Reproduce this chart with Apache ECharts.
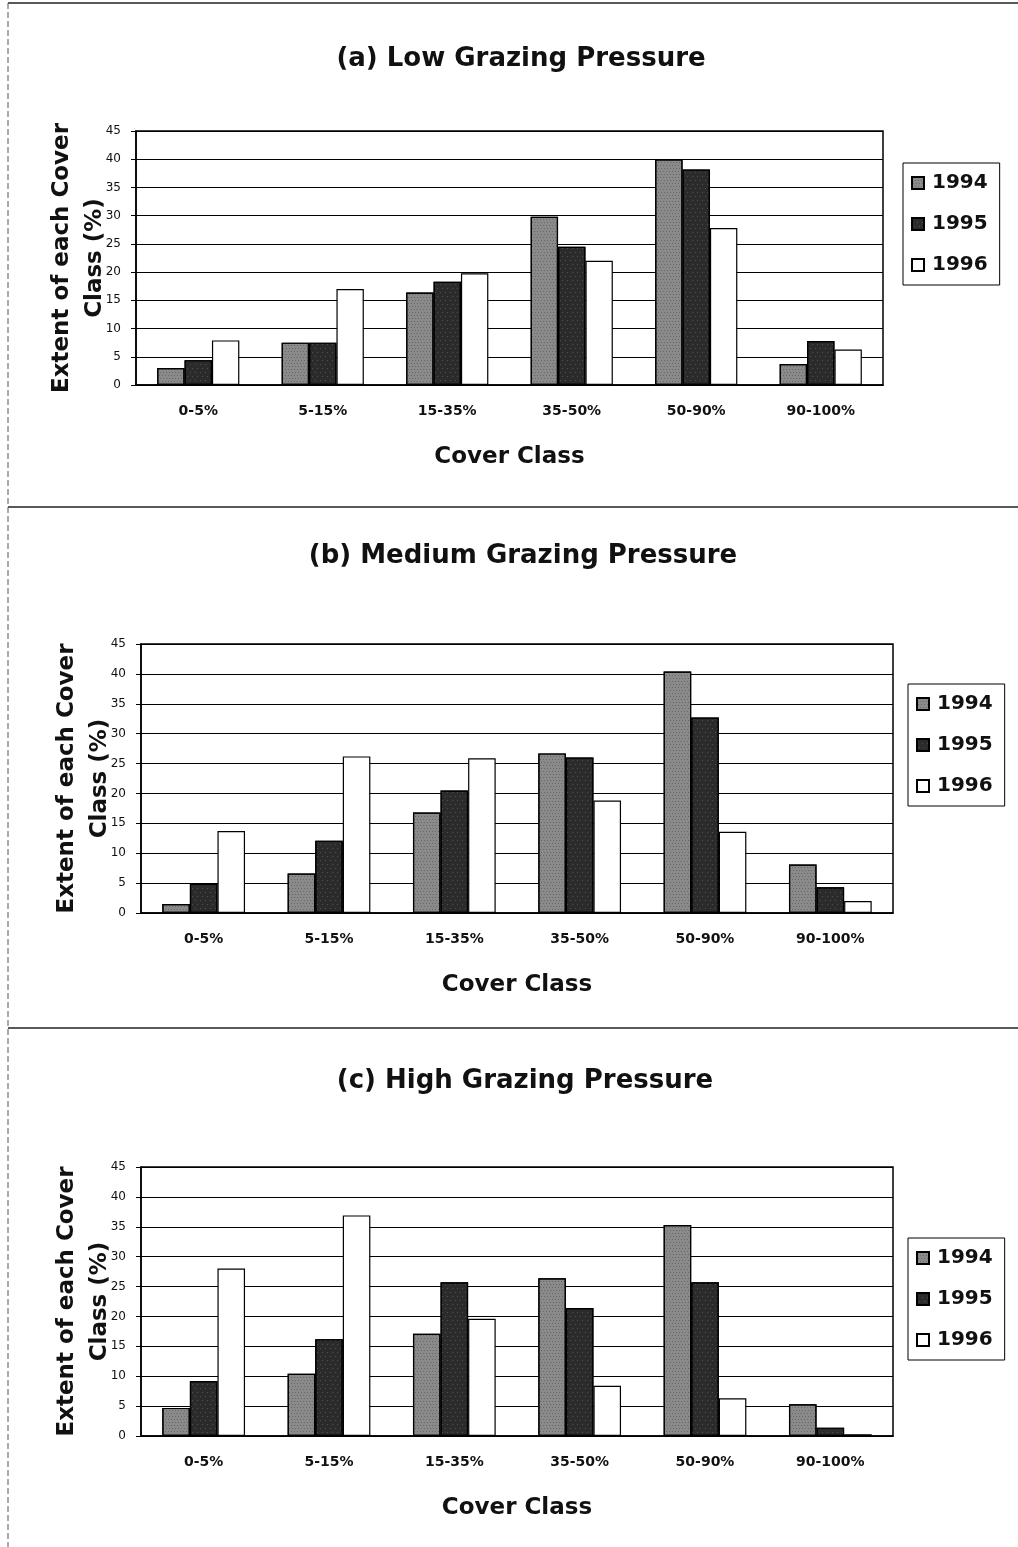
<!DOCTYPE html>
<html>
<head>
<meta charset="utf-8">
<script src="https://cdn.jsdelivr.net/npm/echarts@6/dist/echarts.min.js"></script>
<style>
html,body{margin:0;padding:0;background:#fff;}
#chart{width:1018px;height:1547px;}
</style>
</head>
<body>
<div id="chart"></div>
<script>
const categories = ['0-5%', '5-15%', '15-35%', '35-50%', '50-90%', '90-100%'];
const years = ['1994', '1995', '1996'];
const yTicks = [0, 5, 10, 15, 20, 25, 30, 35, 40, 45];
const panelTitles = ['(a) Low Grazing Pressure', '(b) Medium Grazing Pressure', '(c) High Grazing Pressure'];

const lowG1994 = [3.0, 7.5, 16.4, 29.8, 40.0, 3.7];
const lowG1995 = [4.4, 7.5, 18.3, 24.5, 38.2, 7.8];
const lowG1996 = [7.9, 17.0, 19.8, 22.0, 27.8, 6.3];

const medG1994 = [1.5, 6.6, 16.8, 26.7, 40.4, 8.1];
const medG1995 = [4.9, 12.1, 20.5, 26.0, 32.7, 4.3];
const medG1996 = [13.7, 26.2, 25.9, 18.8, 13.6, 2.0];

const highG1994 = [4.7, 10.4, 17.1, 26.4, 35.3, 5.3];
const highG1995 = [9.2, 16.2, 25.7, 21.4, 25.7, 1.4];
const highG1996 = [28.0, 36.9, 19.6, 8.4, 6.3, 0.3];

const panelData = [
  [lowG1994, lowG1995, lowG1996],
  [medG1994, medG1995, medG1996],
  [highG1994, highG1995, highG1996]
];

const FONT = '"DejaVu Sans", "Liberation Sans", Arial, sans-serif';
const grids = [
  {left: 136, right: 135, top: 131, height: 254},
  {left: 141, right: 125, top: 644, height: 269},
  {left: 141, right: 125, top: 1167, height: 269}
];
const titleCenters = [516, 518, 520];
const titleTops = [41, 538, 1063];
const legendPos = [
  {left: 903, top: 163},
  {left: 908, top: 684},
  {left: 908, top: 1238}
];
const fills = ['#8a8a8a', '#2b2b2b', '#ffffff'];
const decals = [
  {symbol: 'rect', symbolSize: 1, color: 'rgba(40,40,40,0.35)', dashArrayX: [[1, 2], [0, 1, 1, 1]], dashArrayY: [1, 2], rotation: 0},
  {symbol: 'rect', symbolSize: 1, color: 'rgba(150,150,150,0.35)', dashArrayX: [[1, 4], [0, 2, 1, 2]], dashArrayY: [1, 3], rotation: 0},
  null
];

const option = {
  backgroundColor: '#fff',
  animation: false,
  textStyle: {fontFamily: FONT},
  title: panelTitles.map((t, i) => ({
    text: t, left: titleCenters[i], textAlign: 'center', top: titleTops[i],
    textStyle: {fontFamily: FONT, fontSize: 26, fontWeight: 'bold', color: '#111'}
  })),
  legend: legendPos.map((p, i) => ({
    orient: 'vertical', left: p.left, top: p.top,
    data: years,
    icon: 'rect', itemWidth: 12, itemHeight: 12, itemGap: 21,
    padding: [10, 12, 10, 8],
    borderColor: '#000', borderWidth: 1,
    selectedMode: false,
    textStyle: {fontFamily: FONT, fontSize: 20, fontWeight: 'bold', color: '#111', padding: [0, 0, 0, 3]}
  })),
  grid: grids.map(g => Object.assign({show: true, borderColor: '#000', borderWidth: 1.5, backgroundColor: '#fff'}, g)),
  xAxis: grids.map((g, i) => ({
    type: 'category', gridIndex: i, data: categories,
    axisLine: {lineStyle: {color: '#000', width: 1.5}},
    axisTick: {show: false},
    axisLabel: {fontFamily: FONT, fontSize: 14, fontWeight: 'bold', color: '#111', margin: 19},
    name: 'Cover Class', nameLocation: 'middle', nameGap: 61,
    nameTextStyle: {fontFamily: FONT, fontSize: 23, fontWeight: 'bold', color: '#111'}
  })),
  yAxis: grids.map((g, i) => ({
    type: 'value', gridIndex: i, min: 0, max: 45, interval: 5,
    axisLine: {show: true, lineStyle: {color: '#000', width: 1.5}},
    axisTick: {show: true, length: 5, lineStyle: {color: '#000'}},
    axisLabel: {fontFamily: FONT, fontSize: 12, color: '#111', margin: 15},
    splitLine: {show: true, lineStyle: {color: '#000', width: 1.2}},
    name: 'Extent of each Cover\nClass (%)', nameLocation: 'middle', nameRotate: 90, nameGap: 24,
    nameMoveOverlap: false,
    nameTextStyle: {fontFamily: FONT, fontSize: 23, fontWeight: 'bold', color: '#111', lineHeight: 33}
  })),
  series: []
};

panelData.forEach((panel, p) => {
  panel.forEach((vals, k) => {
    const style = {color: fills[k], borderColor: '#000', borderWidth: 1.2};
    if (decals[k]) style.decal = decals[k];
    option.series.push({
      type: 'bar', name: years[k], xAxisIndex: p, yAxisIndex: p,
      data: vals, barGap: '0%', barCategoryGap: '34%',
      itemStyle: style
    });
  });
});

option.graphic = [
  {type: 'line', shape: {x1: 8, y1: 3, x2: 1018, y2: 3}, style: {stroke: '#222', lineWidth: 1.5}},
  {type: 'line', shape: {x1: 8, y1: 507, x2: 1018, y2: 507}, style: {stroke: '#222', lineWidth: 1.5}},
  {type: 'line', shape: {x1: 8, y1: 1028, x2: 1018, y2: 1028}, style: {stroke: '#222', lineWidth: 1.5}},
  {type: 'line', shape: {x1: 8, y1: 3, x2: 8, y2: 1547}, style: {stroke: '#555', lineWidth: 1, lineDash: [6, 3]}}
];

const chart = echarts.init(document.getElementById('chart'), null, {renderer: 'canvas'});
chart.setOption(option);
</script>
</body>
</html>
